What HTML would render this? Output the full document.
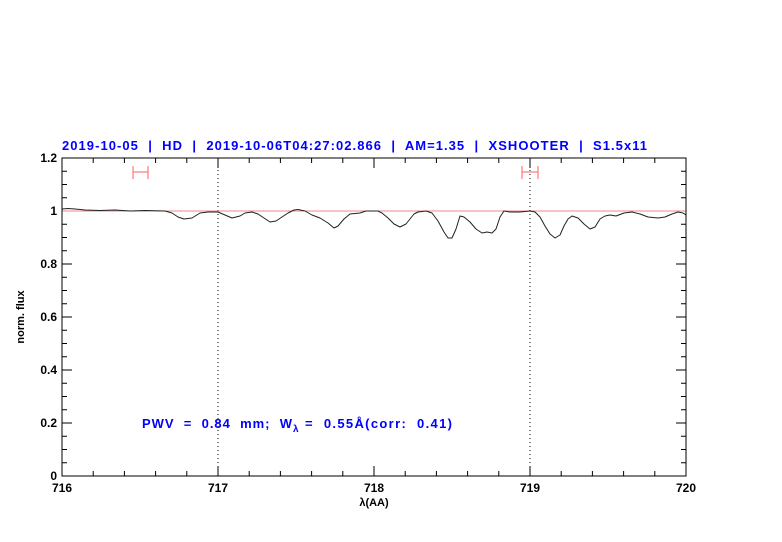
<!DOCTYPE html>
<html><head><style>body{margin:0;background:#fff}svg{display:block}</style></head><body>
<svg width="782" height="542" xmlns="http://www.w3.org/2000/svg" font-family="Liberation Sans, Arial, sans-serif" font-weight="bold">
<rect width="782" height="542" fill="#fff"/>
<g stroke="#000" stroke-width="1" fill="none">
<path d="M218,476v-10M374,476v-10M530,476v-10M218,158v10M374,158v10M530,158v10
M93.2,476v-5M124.4,476v-5M155.6,476v-5M186.8,476v-5M249.2,476v-5M280.4,476v-5M311.6,476v-5M342.8,476v-5M405.2,476v-5M436.4,476v-5M467.6,476v-5M498.8,476v-5M561.2,476v-5M592.4,476v-5M623.6,476v-5M654.8,476v-5
M93.2,158v5M124.4,158v5M155.6,158v5M186.8,158v5M249.2,158v5M280.4,158v5M311.6,158v5M342.8,158v5M405.2,158v5M436.4,158v5M467.6,158v5M498.8,158v5M561.2,158v5M592.4,158v5M623.6,158v5M654.8,158v5"/>
<path d="M62,423h10M62,370h10M62,317h10M62,264h10M62,211h10M686,423h-10M686,370h-10M686,317h-10M686,264h-10M686,211h-10
M62,462.75h5M62,449.5h5M62,436.25h5M62,409.75h5M62,396.5h5M62,383.25h5M62,356.75h5M62,343.5h5M62,330.25h5M62,303.75h5M62,290.5h5M62,277.25h5M62,250.75h5M62,237.5h5M62,224.25h5M62,197.75h5M62,184.5h5M62,171.25h5
M686,462.75h-5M686,449.5h-5M686,436.25h-5M686,409.75h-5M686,396.5h-5M686,383.25h-5M686,356.75h-5M686,343.5h-5M686,330.25h-5M686,303.75h-5M686,290.5h-5M686,277.25h-5M686,250.75h-5M686,237.5h-5M686,224.25h-5M686,197.75h-5M686,184.5h-5M686,171.25h-5"/>
</g>
<line x1="218" y1="158" x2="218" y2="476" stroke="#000" stroke-dasharray="1,3"/>
<line x1="530" y1="158" x2="530" y2="476" stroke="#000" stroke-dasharray="1,3"/>
<line x1="62" y1="211" x2="686" y2="211" stroke="#e88" stroke-width="1"/>
<polyline fill="none" stroke="#222" stroke-width="1" stroke-linejoin="round" points="62,209 68,208.5 75,209 85,210 100,210.5 115,210 130,211 145,210.5 165,211 172,213 178,217 184,219 192,218 200,213 208,212 218,212 225,215 232,218 240,216 245,213 252,212 258,214 264,218 270,222 276,221 282,217 288,213 294,210 298,209.5 305,211 312,215 320,218 328,223 334,228 338,226 344,219 350,214 360,213 366,211 374,211 378,211 382,213 388,218 394,224 400,227 406,224 410,219 414,214 418,212 426,211 432,213 438,221 444,232 448,238 452,238 456,229 460,216 464,217 470,222 476,229 482,233 487,232 492,233 496,229 500,217 504,211 510,212 520,212 530,211 535,212 540,217 545,226 550,234 555,238 560,235 564,226 568,219 572,216 578,218 584,224 590,229 595,227 600,219 605,216 610,215 616,216 624,213 632,212 640,214 648,217 658,218 665,217 672,214 678,212 683,213 686,215"/>
<g stroke="#f77" stroke-width="1.2">
<line x1="133" y1="172" x2="148" y2="172"/><line x1="133" y1="166" x2="133" y2="179"/><line x1="148" y1="166" x2="148" y2="179"/>
<line x1="522" y1="172" x2="538" y2="172"/><line x1="522" y1="166" x2="522" y2="179"/><line x1="538" y1="166" x2="538" y2="179"/>
</g>
<rect x="62" y="158" width="624" height="318" fill="none" stroke="#000" stroke-width="1"/>
<g font-size="12" fill="#000" text-anchor="middle">
<text x="62" y="492">716</text><text x="218" y="492">717</text><text x="374" y="492">718</text><text x="530" y="492">719</text><text x="686" y="492">720</text>
<text x="374" y="506" font-size="11">λ(AA)</text>
</g>
<g font-size="12" fill="#000" text-anchor="end">
<text x="57" y="480">0</text><text x="57" y="427">0.2</text><text x="57" y="374">0.4</text><text x="57" y="321">0.6</text><text x="57" y="268">0.8</text><text x="57" y="215">1</text><text x="57" y="162">1.2</text>
</g>
<text transform="translate(24,317) rotate(-90)" font-size="11" text-anchor="middle">norm. flux</text>
<text x="62" y="150" font-size="13" fill="#00f" textLength="585" lengthAdjust="spacing" xml:space="preserve">2019-10-05  |  HD  |  2019-10-06T04:27:02.866  |  AM=1.35  |  XSHOOTER  |  S1.5x11</text>
<text x="142" y="428" font-size="13" fill="#00f" xml:space="preserve" textLength="150" lengthAdjust="spacing">PWV  =  0.84  mm;  W</text>
<text x="293" y="432" font-size="10" fill="#00f">λ</text>
<text x="305" y="428" font-size="13" fill="#00f" xml:space="preserve" textLength="147" lengthAdjust="spacing">=  0.55Å(corr:  0.41)</text>
</svg>
</body></html>
